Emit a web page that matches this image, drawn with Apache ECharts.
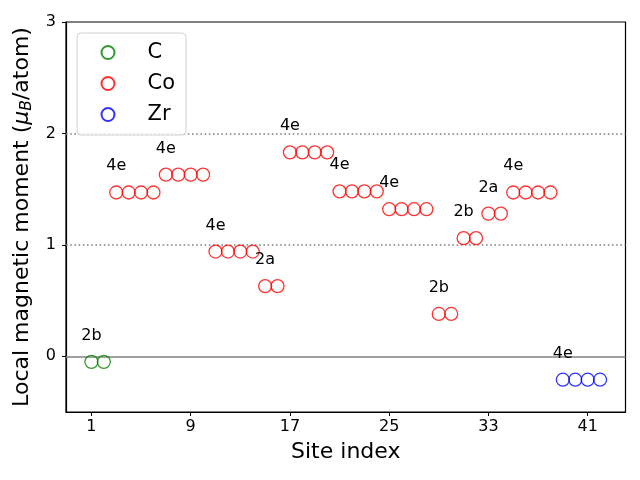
<!DOCTYPE html>
<html><head><meta charset="utf-8">
<script src="https://cdn.jsdelivr.net/npm/echarts@6/dist/echarts.min.js"></script>
<style>html,body{margin:0;padding:0;background:#fff}#c{width:640px;height:480px}</style>
</head><body><div id="c"></div>
<script>
const cSites = [1, 2];
const cMoments = [-0.05, -0.05];
const coSites = [3,4,5,6,7,8,9,10,11,12,13,14,15,16,17,18,19,20,21,22,23,24,25,26,27,28,29,30,31,32,33,34,35,36,37,38];
const coMoments = [1.47,1.47,1.47,1.47, 1.63,1.63,1.63,1.63, 0.94,0.94,0.94,0.94, 0.63,0.63,
  1.83,1.83,1.83,1.83, 1.48,1.48,1.48,1.48, 1.32,1.32,1.32,1.32, 0.38,0.38, 1.06,1.06, 1.28,1.28,
  1.47,1.47,1.47,1.47];
const zrSites = [39, 40, 41, 42];
const zrMoments = [-0.21, -0.21, -0.21, -0.21];
const groupStarts = [1, 3, 7, 11, 15, 17, 21, 25, 29, 31, 33, 35, 39];
const groupLabels = ['2b','4e','4e','4e','2a','4e','4e','4e','2b','2b','2a','4e','4e'];
const xTicks = [1, 9, 17, 25, 33, 41];
const yTicks = [0, 1, 2, 3];
const refLinesDotted = [1, 2];
const refLineSolid = 0;

const FONT = 'DejaVu Sans';
function mk(sites, vals) {
  return sites.map((s, i) => {
    const gi = groupStarts.indexOf(s);
    const d = { value: [s, vals[i]] };
    if (gi >= 0) {
      d.label = { show: true, formatter: groupLabels[gi], color: '#000', opacity: 1, textBorderWidth: 0 };
    }
    return d;
  });
}
function ser(name, color, sites, vals, extra) {
  return Object.assign({
    name, type: 'scatter', symbol: 'circle', symbolSize: 13,
    itemStyle: { color: 'rgba(255,255,255,0)', borderColor: color, borderWidth: 1.3 },
    label: { show: false, position: 'top', distance: 11, color: '#000', fontFamily: FONT, fontSize: 16 },
    emphasis: { disabled: true },
    data: mk(sites, vals), z: 3
  }, extra || {});
}
const chart = echarts.init(document.getElementById('c'), null, { renderer: 'canvas' });
chart.setOption({
  animation: false,
  textStyle: { fontFamily: FONT },
  grid: { left: 66, right: 14.5, top: 22, bottom: 68, show: true, borderColor: '#000', borderWidth: 1.2, backgroundColor: 'transparent' },
  legend: {
    left: 77, top: 33, orient: 'vertical',
    itemWidth: 41, itemHeight: 13, itemGap: 10,
    padding: [9, 11, 10, 23.5],
    borderColor: '#d0d0d0', borderWidth: 1, borderRadius: 4, backgroundColor: 'rgba(255,255,255,0.8)',
    textStyle: { fontFamily: FONT, fontSize: 21, color: '#000', lineHeight: 20, padding: [0, 0, 0, 14] },
    data: ['C', 'Co', 'Zr']
  },
  xAxis: {
    type: 'value', min: -1.05, max: 44.05,
    name: 'Site index', nameLocation: 'middle', nameGap: 29,
    nameTextStyle: { fontFamily: FONT, fontSize: 22, color: '#000' },
    axisLine: { onZero: false, lineStyle: { color: '#000', width: 1.2 } },
    axisTick: { show: true, customValues: xTicks, length: 4, lineStyle: { color: '#000' } },
    axisLabel: { customValues: xTicks, margin: 7, fontFamily: FONT, fontSize: 16, color: '#000' },
    splitLine: { show: false }
  },
  yAxis: {
    type: 'value', min: -0.5, max: 3,
    name: '{n|Local magnetic moment (}{i|μ}{s|B}{n|/atom)}',
    nameLocation: 'middle', nameGap: 27, nameRotate: 90,
    nameTextStyle: {
      fontFamily: FONT, fontSize: 22, color: '#000',
      rich: {
        n: { fontFamily: FONT, fontSize: 22, color: '#000' },
        i: { fontFamily: FONT, fontSize: 22, fontStyle: 'italic', color: '#000' },
        s: { fontFamily: FONT, fontSize: 15.5, fontStyle: 'italic', color: '#000', padding: [9, 0, 0, 0] }
      }
    },
    axisLine: { show: true, onZero: false, lineStyle: { color: '#000', width: 1.2 } },
    axisTick: { show: true, customValues: yTicks, length: 4, lineStyle: { color: '#000' } },
    axisLabel: { customValues: yTicks, margin: 10, fontFamily: FONT, fontSize: 16, color: '#000' },
    splitLine: { show: false }
  },
  series: [
    ser('C', '#008000', cSites, cMoments, {
      markLine: {
        silent: true, symbol: 'none', label: { show: false }, z: 1,
        data: [
          { yAxis: refLineSolid, lineStyle: { type: 'solid', color: '#808080', width: 1.6 } },
          ...refLinesDotted.map(v => ({ yAxis: v, lineStyle: { type: [1.6, 2.6], color: '#808080', width: 1.6 } }))
        ]
      }
    }),
    ser('Co', '#ff0000', coSites, coMoments),
    ser('Zr', '#0000ff', zrSites, zrMoments)
  ]
});
</script></body></html>
